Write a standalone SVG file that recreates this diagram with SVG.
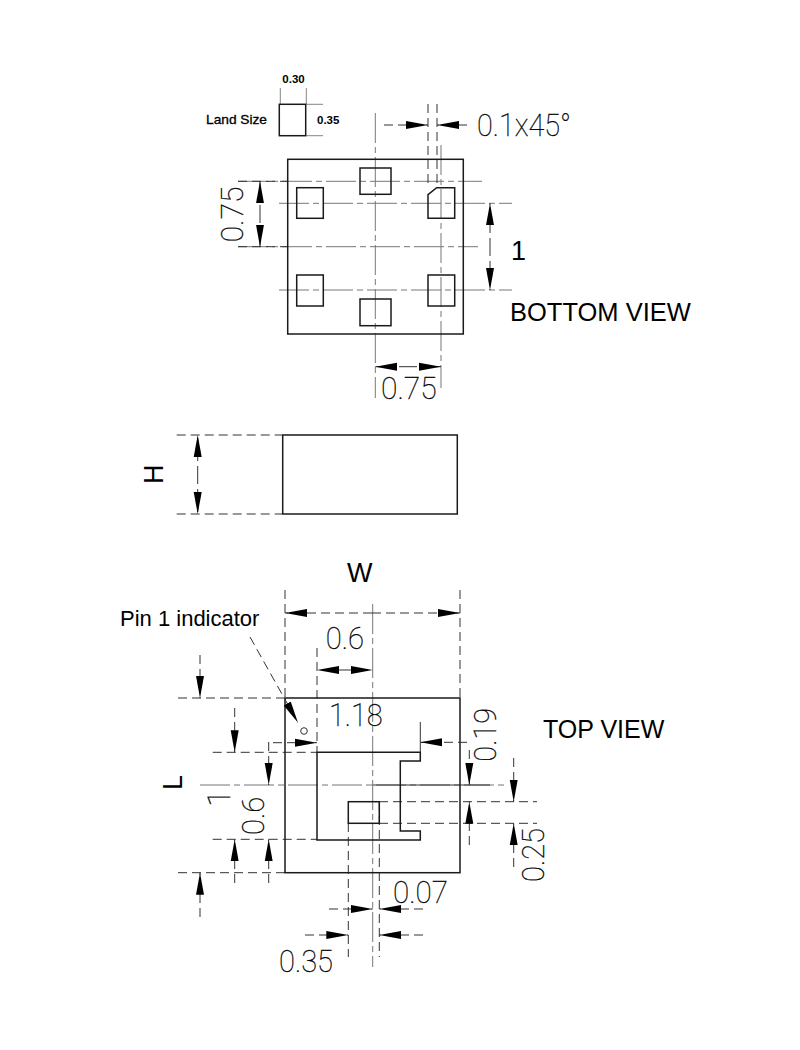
<svg xmlns="http://www.w3.org/2000/svg" width="800" height="1050" viewBox="0 0 800 1050">
<style>
.o{fill:none;stroke:#1a1a1a;stroke-width:1.5}
.t{fill:none;stroke:#333;stroke-width:1}
.c{fill:none;stroke:#777;stroke-width:1;stroke-dasharray:30 4 6 4}
.d{fill:none;stroke:#333;stroke-width:1;stroke-dasharray:9 5}
.a{fill:none;stroke:#333;stroke-width:1;stroke-dasharray:9 5;marker-end:url(#arrow)}
.s{font-family:"Liberation Sans",Arial,sans-serif;fill:#000}
.b{font-family:"Liberation Sans",Arial,sans-serif;fill:#000;font-size:11.5px;font-weight:700}
.l{font-family:"Liberation Sans",Arial,sans-serif;fill:#000;font-size:13px;stroke:#000;stroke-width:.3}
.n{font-family:Roboto,"Liberation Sans",sans-serif;font-weight:100;font-size:32px;fill:#000;stroke:#000;stroke-width:.3}
</style>
<defs>
<marker id="arrow" markerUnits="userSpaceOnUse" markerWidth="24" markerHeight="10" refX="22" refY="4.500" orient="auto">
<path d="M0 .5L22 4.500L0 8.500Z" fill="#000"/>
</marker>
</defs>
<rect width="800" height="1050" fill="#fff"/>

<g id="bottom-view-centerlines">
<path class="c" d="M375.300 113V398M441 145V388M238 181.300H482M238 246.700H478M279 203.300H512M279 290H512"/>
<path class="d" d="M428 104V187M437 104V187M238 181.300H288M238 246.700H288"/>
</g>
<g id="land-size">
<rect class="o" x="279.300" y="104.300" width="26.400" height="31.400"/>
<path class="t" stroke-opacity=".6" d="M280.300 88V104M306.300 88V104M306 104.300H323M306 135.700H323"/>
<text class="b" x="293.500" y="83" text-anchor="middle">0.30</text>
<text class="l" x="206" y="124" textLength="61" lengthAdjust="spacingAndGlyphs">Land Size</text>
<text class="b" x="317" y="124">0.35</text>
</g>
<g id="bottom-view-body">
<rect class="o" x="287.700" y="159.300" width="175.600" height="174.700"/>
<rect class="o" x="360" y="168" width="31" height="26.300"/>
<rect class="o" x="360" y="299" width="31" height="26.700"/>
<rect class="o" x="296.700" y="187.700" width="26.600" height="30.600"/>
<rect class="o" x="296.700" y="275" width="26.600" height="31"/>
<path class="o" d="M436.700 187.700H454.700V218.300H428V194.700Z"/>
<rect class="o" x="428" y="275" width="26.700" height="31"/>
</g>
<g id="bottom-view-dimensions">
<path class="a" d="M260 214V181.300"/>
<path class="a" d="M260 214V246.700"/>
<path class="a" d="M490 247V203.300"/>
<path class="a" d="M490 247V290"/>
<path class="a" d="M408 366.700H375.300"/>
<path class="a" d="M408 366.700H441"/>
<path class="a" d="M384 125H428"/>
<path class="a" d="M467 125H437"/>
<text class="n" x="381" y="399.300" textLength="55.700" lengthAdjust="spacingAndGlyphs">0.75</text>
<text class="n" transform="translate(243.300 242.300) rotate(-90)" textLength="55.700" lengthAdjust="spacingAndGlyphs">0.75</text>
<text class="n" x="477" y="135.700" textLength="94" lengthAdjust="spacingAndGlyphs">0.1x45°</text>
<text class="s" x="511" y="260" font-size="27">1</text>
<text class="s" x="510" y="321" font-size="25.500">BOTTOM VIEW</text>
</g>

<g id="side-view">
<rect class="o" x="282.700" y="435" width="174.600" height="79"/>
<path class="d" d="M176.700 435H282M176.700 514H282"/>
<path class="a" d="M197.700 475V435"/>
<path class="a" d="M197.700 475V514"/>
<text class="s" transform="translate(163 484) rotate(-90)" font-size="27">H</text>
</g>

<g id="top-view-centerlines">
<path class="c" d="M372.700 604V967M200 785H507"/>
<path class="d" d="M285 590V698M460 590V698M317 648V752M348.300 823V957M379.300 802V957M379 801.700H537M379 823.300H537M178 698H285M178 872.700H285M212.700 752.300H317M212.700 839.300H317"/>
<path class="t" d="M420.300 722V752M372.700 785H490"/>
</g>
<g id="top-view-body">
<rect class="o" x="285" y="698" width="175" height="174.700"/>
<path class="o" d="M317 752.300H420.300V761H400.300V831H420.300V840H317Z"/>
<rect class="o" x="348.300" y="801.700" width="31" height="21.600"/>
<circle class="t" cx="304" cy="731" r="3.300"/>
</g>
<g id="top-view-dimensions">
<path class="a" d="M372 613H285"/>
<path class="a" d="M372 613H460"/>
<path class="a" d="M345 670H317"/>
<path class="a" d="M345 670H372.700"/>
<path class="a" d="M200 655V698"/>
<path class="a" d="M200 917V872.700"/>
<path class="a" d="M234.700 708V752.300"/>
<path class="a" d="M234.700 883V839.300"/>
<path class="a" d="M268.700 742V785"/>
<path class="a" d="M268.700 883V839.300"/>
<path class="a" d="M273 742.700H317"/>
<path class="a" d="M467 742.300H420.300"/>
<path class="a" d="M469.300 750V785"/>
<path class="a" d="M469.300 845V801.700"/>
<path class="a" d="M513.700 758V801.700"/>
<path class="a" d="M513.700 867V823.300"/>
<path class="a" d="M329 909H372.700"/>
<path class="a" d="M423 909H379.300"/>
<path class="a" d="M305 935H348.300"/>
<path class="a" d="M423 935H379.300"/>
<path class="a" d="M250 637L298 722.700"/>
<text class="s" x="347" y="582" font-size="27">W</text>
<text class="s" x="120" y="626" font-size="22">Pin 1 indicator</text>
<text class="s" x="543" y="738" font-size="25">TOP VIEW</text>
<text class="s" transform="translate(182 790) rotate(-90)" font-size="27">L</text>
<text class="n" x="325.700" y="649" textLength="38.300" lengthAdjust="spacingAndGlyphs">0.6</text>
<text class="n" x="329" y="726" textLength="53.700" lengthAdjust="spacingAndGlyphs">1.18</text>
<text class="n" transform="translate(230 807) rotate(-90)">1</text>
<text class="n" transform="translate(264.300 835) rotate(-90)" textLength="38.300" lengthAdjust="spacingAndGlyphs">0.6</text>
<text class="n" transform="translate(495.700 761.700) rotate(-90)" textLength="53.700" lengthAdjust="spacingAndGlyphs">0.19</text>
<text class="n" transform="translate(544 882) rotate(-90)" textLength="54" lengthAdjust="spacingAndGlyphs">0.25</text>
<text class="n" x="393" y="903" textLength="55" lengthAdjust="spacingAndGlyphs">0.07</text>
<text class="n" x="279" y="971.700" textLength="54" lengthAdjust="spacingAndGlyphs">0.35</text>
</g>
</svg>
